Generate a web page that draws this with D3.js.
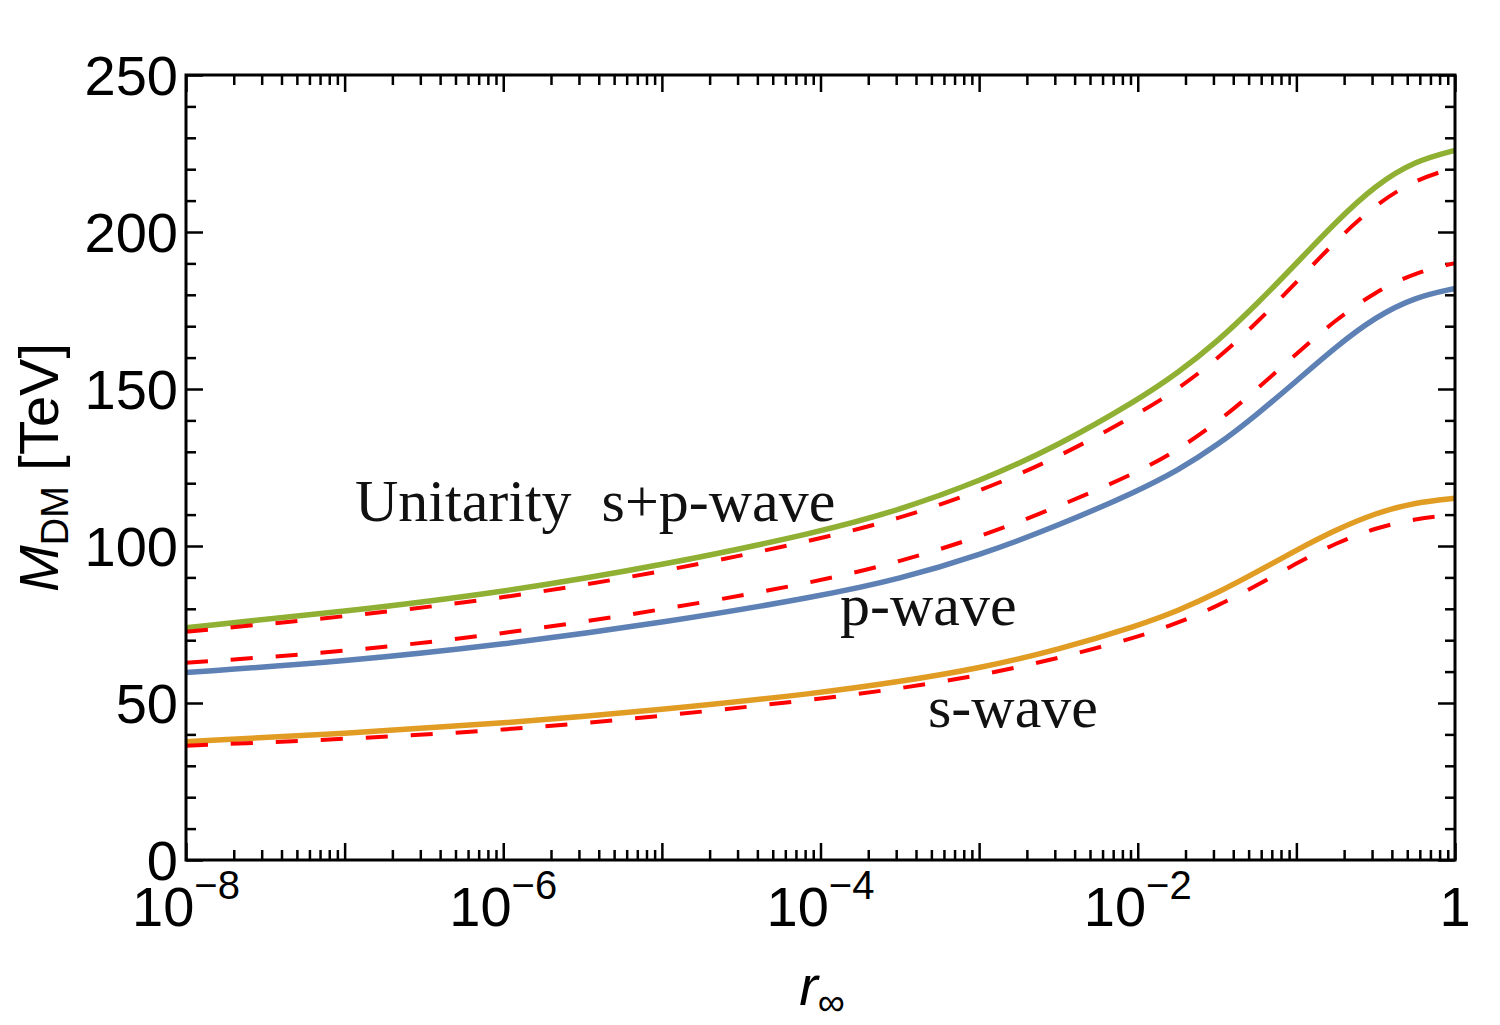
<!DOCTYPE html>
<html>
<head>
<meta charset="utf-8">
<script src="https://cdn.jsdelivr.net/npm/d3@7"></script>
<style>
  body { margin: 0; background: #fff; }
  svg { display: block; }
</style>
</head>
<body>
<div id="chart"></div>
<script>
// log10 of r_inf where the curves were read
const logR = [-8, -7, -6, -5, -4, -3.5, -3, -2.5, -2, -1.75, -1.5, -1.25, -1, -0.75, -0.5, -0.25, 0];

// solid curves
const unitarity = [74.0, 79.1, 85.3, 93.8, 104.5, 111.5, 120.5, 132, 146.5, 155, 165, 177, 190, 203.3, 215, 222.7, 226];
const pWave     = [59.7, 63.2, 68.6, 75.5, 84.0, 89.5, 97, 106.5, 117.5, 124, 132, 141.8, 152.5, 163.5, 173, 179.3, 182];
const sWave     = [37.7, 40.3, 43.5, 47.8, 53.2, 56.8, 61.0, 67.0, 74.6, 79.3, 85, 91.7, 98.7, 105.2, 110.5, 113.9, 115.2];

// red dashed curves
const unitarityDash = [72.7, 77.5, 83.3, 91.7, 102.2, 108.8, 117.3, 128.2, 142, 149.8, 159.5, 171, 184, 197.3, 208.8, 216.7, 220.5];
const pWaveDash     = [62.8, 66.3, 72.0, 79.6, 88.8, 95, 102.8, 112.5, 123.5, 130.5, 139.3, 149.8, 161.3, 172.1, 181.1, 187.1, 190.1];
const sWaveDash     = [36.4, 38.5, 41.3, 45.8, 51.3, 54.6, 58.7, 64.2, 71.0, 75.4, 80.8, 87.4, 94.5, 101, 105.8, 108.7, 110];

const yMajor = [0, 50, 100, 150, 200, 250];
const xLabelExp = [-8, -6, -4, -2, 0];

const width = 1500;
const height = 1025;
const margin = { top: 75, right: 45, bottom: 165, left: 186 };

const svg = d3.select("#chart")
  .append("svg")
  .attr("width", width)
  .attr("height", height);

const x = d3.scaleLog()
  .domain([1e-8, 1])
  .range([margin.left, width - margin.right]);

const y = d3.scaleLinear()
  .domain([0, 250])
  .range([height - margin.bottom, margin.top]);

const sans = "'Liberation Sans', Arial, sans-serif";
const serif = "'Liberation Serif', 'Times New Roman', serif";

// tick values
const xMajorTicks = d3.range(-8, 1).map(e => Math.pow(10, e));
const xMinorTicks = [];
for (let e = -8; e < 0; e++) {
  for (let k = 2; k <= 9; k++) xMinorTicks.push(k * Math.pow(10, e));
}
const yMinorTicks = d3.range(0, 251, 10).filter(v => v % 50 !== 0);

function tickAxis(axis, values, size) {
  return axis.tickValues(values).tickSize(-size).tickFormat("");
}

const bottomY = y(0), topY = y(250), leftX = x(1e-8), rightX = x(1);

// ticks point inward on all four sides
const axes = [
  [() => d3.axisBottom(x), `translate(0,${bottomY})`, xMajorTicks, xMinorTicks],
  [() => d3.axisTop(x), `translate(0,${topY})`, xMajorTicks, xMinorTicks],
  [() => d3.axisLeft(y), `translate(${leftX},0)`, yMajor, yMinorTicks],
  [() => d3.axisRight(y), `translate(${rightX},0)`, yMajor, yMinorTicks]
];

axes.forEach(([makeAxis, tr, major, minor]) => {
  svg.append("g").attr("transform", tr).call(tickAxis(makeAxis(), major, 17));
  svg.append("g").attr("transform", tr).call(tickAxis(makeAxis(), minor, 10));
});

svg.selectAll(".domain").remove();
svg.selectAll(".tick line").attr("stroke", "#000").attr("stroke-width", 2.5);

// curves
const line = d3.line()
  .x(d => x(Math.pow(10, d[0])))
  .y(d => y(d[1]))
  .curve(d3.curveBasis);

function series(vals) {
  return logR.map((l, i) => [l, vals[i]]);
}

const plot = svg.append("g");

plot.append("path").datum(series(sWave))
  .attr("d", line).attr("fill", "none").attr("stroke", "#E19C24").attr("stroke-width", 5.5);
plot.append("path").datum(series(pWave))
  .attr("d", line).attr("fill", "none").attr("stroke", "#5E81B5").attr("stroke-width", 5.5);
plot.append("path").datum(series(unitarity))
  .attr("d", line).attr("fill", "none").attr("stroke", "#8FB032").attr("stroke-width", 5.5);

[unitarityDash, pWaveDash, sWaveDash].forEach(vals => {
  plot.append("path").datum(series(vals))
    .attr("d", line).attr("fill", "none").attr("stroke", "#FF0000")
    .attr("stroke-width", 4).attr("stroke-dasharray", "22,23");
});

// frame
svg.append("rect")
  .attr("x", leftX).attr("y", topY)
  .attr("width", rightX - leftX).attr("height", bottomY - topY)
  .attr("fill", "none").attr("stroke", "#000").attr("stroke-width", 3);

// y tick labels
svg.selectAll(".ylab")
  .data(yMajor)
  .enter()
  .append("text")
  .attr("x", leftX - 8)
  .attr("y", d => y(d))
  .attr("dy", "0.36em")
  .attr("text-anchor", "end")
  .attr("font-family", sans)
  .attr("font-size", 56)
  .text(d => d);

// x tick labels
xLabelExp.forEach(e => {
  const t = svg.append("text")
    .attr("x", x(Math.pow(10, e)))
    .attr("y", 926)
    .attr("text-anchor", "middle")
    .attr("font-family", sans)
    .attr("font-size", 56);
  if (e === 0) {
    t.text("1");
  } else {
    t.append("tspan").text("10");
    t.append("tspan").attr("font-size", 40).attr("dy", -27).text("\u2212" + Math.abs(e));
  }
});

// axis titles
const xt = svg.append("text")
  .attr("x", 822)
  .attr("y", 1005)
  .attr("text-anchor", "middle")
  .attr("font-family", sans)
  .attr("font-size", 56);
xt.append("tspan").attr("font-style", "italic").text("r");
xt.append("tspan").attr("font-size", 38).attr("dy", 10).text("\u221E");

const yt = svg.append("text")
  .attr("transform", `translate(58,${(topY + bottomY) / 2}) rotate(-90)`)
  .attr("text-anchor", "middle")
  .attr("font-family", sans)
  .attr("font-size", 56);
yt.append("tspan").attr("font-style", "italic").text("M");
yt.append("tspan").attr("font-size", 38).attr("dy", 10).text("DM");
yt.append("tspan").attr("dy", -10).text(" [TeV]");

// curve labels
const curveLabels = [
  { text: "Unitarity\u00A0 s+p-wave", x: 355, y: 521 },
  { text: "p-wave", x: 840, y: 625 },
  { text: "s-wave", x: 928, y: 727 }
];

svg.selectAll(".clab")
  .data(curveLabels)
  .enter()
  .append("text")
  .attr("x", d => d.x)
  .attr("y", d => d.y)
  .attr("font-family", serif)
  .attr("font-size", 60)
  .attr("fill", "#111")
  .text(d => d.text);
</script>
</body>
</html>
